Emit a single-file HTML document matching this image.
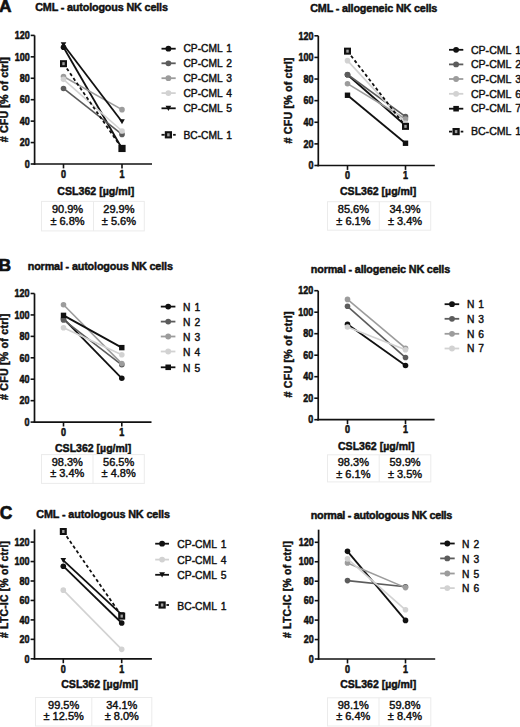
<!DOCTYPE html>
<html><head><meta charset="utf-8"><title>Figure</title>
<style>
html,body{margin:0;padding:0;background:#fff;}
body{width:520px;height:727px;overflow:hidden;}
svg{display:block;font-family:"Liberation Sans", sans-serif;}
</style></head><body>
<svg width="520" height="727" viewBox="0 0 520 727">
<rect x="0" y="0" width="520" height="727" fill="#fff"/>
<line x1="34.6" y1="35.4" x2="34.6" y2="164.85" stroke="#111" stroke-width="1.7" stroke-linecap="butt"/>
<line x1="33.75" y1="164" x2="152" y2="164" stroke="#111" stroke-width="1.7" stroke-linecap="butt"/>
<line x1="30.7" y1="164" x2="34.6" y2="164" stroke="#111" stroke-width="1.6" stroke-linecap="butt"/>
<text x="29.7" y="167.7" font-size="10.3" font-weight="bold" text-anchor="end" fill="#111" textLength="5" lengthAdjust="spacingAndGlyphs" stroke="#111" stroke-width="0.55" stroke-linejoin="round">0</text>
<line x1="30.7" y1="142.57" x2="34.6" y2="142.57" stroke="#111" stroke-width="1.6" stroke-linecap="butt"/>
<text x="29.7" y="146.27" font-size="10.3" font-weight="bold" text-anchor="end" fill="#111" textLength="10" lengthAdjust="spacingAndGlyphs" stroke="#111" stroke-width="0.55" stroke-linejoin="round">20</text>
<line x1="30.7" y1="121.13" x2="34.6" y2="121.13" stroke="#111" stroke-width="1.6" stroke-linecap="butt"/>
<text x="29.7" y="124.83" font-size="10.3" font-weight="bold" text-anchor="end" fill="#111" textLength="10" lengthAdjust="spacingAndGlyphs" stroke="#111" stroke-width="0.55" stroke-linejoin="round">40</text>
<line x1="30.7" y1="99.7" x2="34.6" y2="99.7" stroke="#111" stroke-width="1.6" stroke-linecap="butt"/>
<text x="29.7" y="103.4" font-size="10.3" font-weight="bold" text-anchor="end" fill="#111" textLength="10" lengthAdjust="spacingAndGlyphs" stroke="#111" stroke-width="0.55" stroke-linejoin="round">60</text>
<line x1="30.7" y1="78.27" x2="34.6" y2="78.27" stroke="#111" stroke-width="1.6" stroke-linecap="butt"/>
<text x="29.7" y="81.97" font-size="10.3" font-weight="bold" text-anchor="end" fill="#111" textLength="10" lengthAdjust="spacingAndGlyphs" stroke="#111" stroke-width="0.55" stroke-linejoin="round">80</text>
<line x1="30.7" y1="56.83" x2="34.6" y2="56.83" stroke="#111" stroke-width="1.6" stroke-linecap="butt"/>
<text x="29.7" y="60.53" font-size="10.3" font-weight="bold" text-anchor="end" fill="#111" textLength="15" lengthAdjust="spacingAndGlyphs" stroke="#111" stroke-width="0.55" stroke-linejoin="round">100</text>
<line x1="30.7" y1="35.4" x2="34.6" y2="35.4" stroke="#111" stroke-width="1.6" stroke-linecap="butt"/>
<text x="29.7" y="39.1" font-size="10.3" font-weight="bold" text-anchor="end" fill="#111" textLength="15" lengthAdjust="spacingAndGlyphs" stroke="#111" stroke-width="0.55" stroke-linejoin="round">120</text>
<line x1="63.5" y1="164" x2="63.5" y2="168.4" stroke="#111" stroke-width="1.6" stroke-linecap="butt"/>
<text x="63.5" y="178.3" font-size="10.3" font-weight="bold" text-anchor="middle" fill="#111" textLength="5" lengthAdjust="spacingAndGlyphs" stroke="#111" stroke-width="0.55" stroke-linejoin="round">0</text>
<line x1="122" y1="164" x2="122" y2="168.4" stroke="#111" stroke-width="1.6" stroke-linecap="butt"/>
<text x="122" y="178.3" font-size="10.3" font-weight="bold" text-anchor="middle" fill="#111" textLength="5" lengthAdjust="spacingAndGlyphs" stroke="#111" stroke-width="0.55" stroke-linejoin="round">1</text>
<text x="57.3" y="194.7" font-size="10.5" font-weight="bold" text-anchor="start" fill="#111" textLength="76.9" lengthAdjust="spacingAndGlyphs" stroke="#111" stroke-width="0.45" stroke-linejoin="round">CSL362 [&#181;g/ml]</text>
<g transform="translate(8.1,99.7) rotate(-90)">
<text x="0" y="0" font-size="10.7" font-weight="bold" text-anchor="middle" fill="#111" textLength="85.1" lengthAdjust="spacing" stroke="#111" stroke-width="0.45" stroke-linejoin="round"># CFU [% of ctrl]</text>
</g>
<text x="35.2" y="11" font-size="10.8" font-weight="bold" text-anchor="start" fill="#111" textLength="132.7" lengthAdjust="spacing" stroke="#111" stroke-width="0.45" stroke-linejoin="round">CML - autologous NK cells</text>
<line x1="63.5" y1="47.19" x2="122" y2="148.46" stroke="#111" stroke-width="1.8" stroke-linecap="butt"/>
<circle cx="63.5" cy="47.19" r="2.8" fill="#111"/>
<circle cx="122" cy="148.46" r="2.8" fill="#111"/>
<line x1="63.5" y1="88.45" x2="122" y2="134.42" stroke="#5c5c5c" stroke-width="1.6" stroke-linecap="butt"/>
<circle cx="63.5" cy="88.45" r="2.8" fill="#5c5c5c"/>
<circle cx="122" cy="134.42" r="2.8" fill="#5c5c5c"/>
<line x1="63.5" y1="76.44" x2="122" y2="109.67" stroke="#9c9c9c" stroke-width="1.6" stroke-linecap="butt"/>
<circle cx="63.5" cy="76.44" r="2.8" fill="#9c9c9c"/>
<circle cx="122" cy="109.67" r="2.8" fill="#9c9c9c"/>
<line x1="63.5" y1="79.34" x2="122" y2="130.99" stroke="#d2d2d2" stroke-width="1.6" stroke-linecap="butt"/>
<circle cx="63.5" cy="79.34" r="2.8" fill="#d2d2d2"/>
<circle cx="122" cy="130.99" r="2.8" fill="#d2d2d2"/>
<line x1="63.5" y1="44.72" x2="122" y2="121.67" stroke="#111" stroke-width="1.8" stroke-linecap="butt"/>
<polygon points="60.7,42.32 66.3,42.32 63.5,47.32" fill="#111"/>
<polygon points="119.2,119.27 124.8,119.27 122,124.27" fill="#111"/>
<line x1="63.5" y1="63.69" x2="122" y2="148.46" stroke="#111" stroke-width="1.8" stroke-linecap="butt" stroke-dasharray="3.2,2.6"/>
<rect x="60" y="60.19" width="7" height="7" fill="#111"/>
<rect x="62.3" y="62.19" width="2.4" height="3" fill="#a0a0a0"/>
<rect x="118.4" y="144.86" width="7.2" height="7.2" fill="#111"/>
<line x1="161.5" y1="48.7" x2="175.7" y2="48.7" stroke="#111" stroke-width="1.8" stroke-linecap="butt"/>
<circle cx="168.4" cy="48.7" r="2.88" fill="#111"/>
<text x="183.4" y="52.4" font-size="10.25" text-anchor="start" fill="#111" word-spacing="1.2" stroke="#111" stroke-width="0.42" stroke-linejoin="round">CP-CML 1</text>
<line x1="161.5" y1="63.3" x2="175.7" y2="63.3" stroke="#5c5c5c" stroke-width="1.8" stroke-linecap="butt"/>
<circle cx="168.4" cy="63.3" r="2.88" fill="#5c5c5c"/>
<text x="183.4" y="67" font-size="10.25" text-anchor="start" fill="#111" word-spacing="1.2" stroke="#111" stroke-width="0.42" stroke-linejoin="round">CP-CML 2</text>
<line x1="161.5" y1="78.2" x2="175.7" y2="78.2" stroke="#9c9c9c" stroke-width="1.8" stroke-linecap="butt"/>
<circle cx="168.4" cy="78.2" r="2.88" fill="#9c9c9c"/>
<text x="183.4" y="81.9" font-size="10.25" text-anchor="start" fill="#111" word-spacing="1.2" stroke="#111" stroke-width="0.42" stroke-linejoin="round">CP-CML 3</text>
<line x1="161.5" y1="93.1" x2="175.7" y2="93.1" stroke="#d2d2d2" stroke-width="1.8" stroke-linecap="butt"/>
<circle cx="168.4" cy="93.1" r="2.88" fill="#d2d2d2"/>
<text x="183.4" y="96.8" font-size="10.25" text-anchor="start" fill="#111" word-spacing="1.2" stroke="#111" stroke-width="0.42" stroke-linejoin="round">CP-CML 4</text>
<line x1="161.5" y1="108.3" x2="175.7" y2="108.3" stroke="#111" stroke-width="1.8" stroke-linecap="butt"/>
<polygon points="165.52,105.83 171.28,105.83 168.4,110.98" fill="#111"/>
<text x="183.4" y="112" font-size="10.25" text-anchor="start" fill="#111" word-spacing="1.2" stroke="#111" stroke-width="0.42" stroke-linejoin="round">CP-CML 5</text>
<line x1="161.5" y1="134.8" x2="164.7" y2="134.8" stroke="#111" stroke-width="1.8" stroke-linecap="butt"/>
<line x1="173.1" y1="134.8" x2="175.7" y2="134.8" stroke="#111" stroke-width="1.8" stroke-linecap="butt"/>
<rect x="164.8" y="131.2" width="7.21" height="7.21" fill="#111"/>
<rect x="167.16" y="133.26" width="2.47" height="3.09" fill="#a0a0a0"/>
<text x="183.4" y="138.5" font-size="10.25" text-anchor="start" fill="#111" word-spacing="1.2" stroke="#111" stroke-width="0.42" stroke-linejoin="round">BC-CML 1</text>
<rect x="41.5" y="201.4" width="102.8" height="29.5" fill="none" stroke="#ebebeb" stroke-width="1"/>
<line x1="93.5" y1="201.4" x2="93.5" y2="230.9" stroke="#ebebeb" stroke-width="1" stroke-linecap="butt"/>
<text x="67.5" y="213.2" font-size="11" text-anchor="middle" fill="#111" stroke="#111" stroke-width="0.45" stroke-linejoin="round">90.9%</text>
<text x="67.5" y="224.6" font-size="11" text-anchor="middle" fill="#111" stroke="#111" stroke-width="0.45" stroke-linejoin="round">&#177; 6.8%</text>
<text x="118.9" y="213.2" font-size="11" text-anchor="middle" fill="#111" stroke="#111" stroke-width="0.45" stroke-linejoin="round">29.9%</text>
<text x="118.9" y="224.6" font-size="11" text-anchor="middle" fill="#111" stroke="#111" stroke-width="0.45" stroke-linejoin="round">&#177; 5.6%</text>
<line x1="318.3" y1="35.8" x2="318.3" y2="166.35" stroke="#111" stroke-width="1.7" stroke-linecap="butt"/>
<line x1="317.45" y1="165.5" x2="434.8" y2="165.5" stroke="#111" stroke-width="1.7" stroke-linecap="butt"/>
<line x1="314.4" y1="165.5" x2="318.3" y2="165.5" stroke="#111" stroke-width="1.6" stroke-linecap="butt"/>
<text x="313.4" y="169.2" font-size="10.3" font-weight="bold" text-anchor="end" fill="#111" textLength="5" lengthAdjust="spacingAndGlyphs" stroke="#111" stroke-width="0.55" stroke-linejoin="round">0</text>
<line x1="314.4" y1="143.88" x2="318.3" y2="143.88" stroke="#111" stroke-width="1.6" stroke-linecap="butt"/>
<text x="313.4" y="147.58" font-size="10.3" font-weight="bold" text-anchor="end" fill="#111" textLength="10" lengthAdjust="spacingAndGlyphs" stroke="#111" stroke-width="0.55" stroke-linejoin="round">20</text>
<line x1="314.4" y1="122.27" x2="318.3" y2="122.27" stroke="#111" stroke-width="1.6" stroke-linecap="butt"/>
<text x="313.4" y="125.97" font-size="10.3" font-weight="bold" text-anchor="end" fill="#111" textLength="10" lengthAdjust="spacingAndGlyphs" stroke="#111" stroke-width="0.55" stroke-linejoin="round">40</text>
<line x1="314.4" y1="100.65" x2="318.3" y2="100.65" stroke="#111" stroke-width="1.6" stroke-linecap="butt"/>
<text x="313.4" y="104.35" font-size="10.3" font-weight="bold" text-anchor="end" fill="#111" textLength="10" lengthAdjust="spacingAndGlyphs" stroke="#111" stroke-width="0.55" stroke-linejoin="round">60</text>
<line x1="314.4" y1="79.03" x2="318.3" y2="79.03" stroke="#111" stroke-width="1.6" stroke-linecap="butt"/>
<text x="313.4" y="82.73" font-size="10.3" font-weight="bold" text-anchor="end" fill="#111" textLength="10" lengthAdjust="spacingAndGlyphs" stroke="#111" stroke-width="0.55" stroke-linejoin="round">80</text>
<line x1="314.4" y1="57.42" x2="318.3" y2="57.42" stroke="#111" stroke-width="1.6" stroke-linecap="butt"/>
<text x="313.4" y="61.12" font-size="10.3" font-weight="bold" text-anchor="end" fill="#111" textLength="15" lengthAdjust="spacingAndGlyphs" stroke="#111" stroke-width="0.55" stroke-linejoin="round">100</text>
<line x1="314.4" y1="35.8" x2="318.3" y2="35.8" stroke="#111" stroke-width="1.6" stroke-linecap="butt"/>
<text x="313.4" y="39.5" font-size="10.3" font-weight="bold" text-anchor="end" fill="#111" textLength="15" lengthAdjust="spacingAndGlyphs" stroke="#111" stroke-width="0.55" stroke-linejoin="round">120</text>
<line x1="347.5" y1="165.5" x2="347.5" y2="169.9" stroke="#111" stroke-width="1.6" stroke-linecap="butt"/>
<text x="347.5" y="179" font-size="10.3" font-weight="bold" text-anchor="middle" fill="#111" textLength="5" lengthAdjust="spacingAndGlyphs" stroke="#111" stroke-width="0.55" stroke-linejoin="round">0</text>
<line x1="405.5" y1="165.5" x2="405.5" y2="169.9" stroke="#111" stroke-width="1.6" stroke-linecap="butt"/>
<text x="405.5" y="179" font-size="10.3" font-weight="bold" text-anchor="middle" fill="#111" textLength="5" lengthAdjust="spacingAndGlyphs" stroke="#111" stroke-width="0.55" stroke-linejoin="round">1</text>
<text x="340" y="194.7" font-size="10.5" font-weight="bold" text-anchor="start" fill="#111" textLength="76.3" lengthAdjust="spacingAndGlyphs" stroke="#111" stroke-width="0.45" stroke-linejoin="round">CSL362 [&#181;g/ml]</text>
<g transform="translate(291.9,100.5) rotate(-90)">
<text x="0" y="0" font-size="10.7" font-weight="bold" text-anchor="middle" fill="#111" textLength="85.8" lengthAdjust="spacing" stroke="#111" stroke-width="0.45" stroke-linejoin="round"># CFU [% of ctrl]</text>
</g>
<text x="310.2" y="11.9" font-size="10.8" font-weight="bold" text-anchor="start" fill="#111" textLength="127.1" lengthAdjust="spacing" stroke="#111" stroke-width="0.45" stroke-linejoin="round">CML - allogeneic NK cells</text>
<line x1="347.5" y1="74.71" x2="405.5" y2="125.51" stroke="#111" stroke-width="1.8" stroke-linecap="butt"/>
<circle cx="347.5" cy="74.71" r="2.8" fill="#111"/>
<circle cx="405.5" cy="125.51" r="2.8" fill="#111"/>
<line x1="347.5" y1="74.49" x2="405.5" y2="116.65" stroke="#5c5c5c" stroke-width="1.6" stroke-linecap="butt"/>
<circle cx="347.5" cy="74.49" r="2.8" fill="#5c5c5c"/>
<circle cx="405.5" cy="116.65" r="2.8" fill="#5c5c5c"/>
<line x1="347.5" y1="83.68" x2="405.5" y2="119.02" stroke="#9c9c9c" stroke-width="1.6" stroke-linecap="butt"/>
<circle cx="347.5" cy="83.68" r="2.8" fill="#9c9c9c"/>
<circle cx="405.5" cy="119.02" r="2.8" fill="#9c9c9c"/>
<line x1="347.5" y1="60.66" x2="405.5" y2="123.35" stroke="#d2d2d2" stroke-width="1.6" stroke-linecap="butt"/>
<circle cx="347.5" cy="60.66" r="2.8" fill="#d2d2d2"/>
<circle cx="405.5" cy="123.35" r="2.8" fill="#d2d2d2"/>
<line x1="347.5" y1="95.25" x2="405.5" y2="143.23" stroke="#111" stroke-width="1.8" stroke-linecap="butt"/>
<rect x="344.8" y="92.55" width="5.4" height="5.4" fill="#111"/>
<rect x="402.8" y="140.53" width="5.4" height="5.4" fill="#111"/>
<line x1="347.5" y1="51.15" x2="405.5" y2="126.37" stroke="#111" stroke-width="1.8" stroke-linecap="butt" stroke-dasharray="3.2,2.6"/>
<rect x="344" y="47.65" width="7" height="7" fill="#111"/>
<rect x="346.3" y="49.65" width="2.4" height="3" fill="#a0a0a0"/>
<rect x="402" y="122.87" width="7" height="7" fill="#111"/>
<rect x="404.3" y="124.87" width="2.4" height="3" fill="#a0a0a0"/>
<line x1="449" y1="49.8" x2="463.3" y2="49.8" stroke="#111" stroke-width="1.8" stroke-linecap="butt"/>
<circle cx="456.1" cy="49.8" r="2.88" fill="#111"/>
<text x="470.9" y="53.5" font-size="10.6" text-anchor="start" fill="#111" word-spacing="1.2" stroke="#111" stroke-width="0.42" stroke-linejoin="round">CP-CML 1</text>
<line x1="449" y1="64.4" x2="463.3" y2="64.4" stroke="#5c5c5c" stroke-width="1.8" stroke-linecap="butt"/>
<circle cx="456.1" cy="64.4" r="2.88" fill="#5c5c5c"/>
<text x="470.9" y="68.1" font-size="10.6" text-anchor="start" fill="#111" word-spacing="1.2" stroke="#111" stroke-width="0.42" stroke-linejoin="round">CP-CML 2</text>
<line x1="449" y1="79" x2="463.3" y2="79" stroke="#9c9c9c" stroke-width="1.8" stroke-linecap="butt"/>
<circle cx="456.1" cy="79" r="2.88" fill="#9c9c9c"/>
<text x="470.9" y="82.7" font-size="10.6" text-anchor="start" fill="#111" word-spacing="1.2" stroke="#111" stroke-width="0.42" stroke-linejoin="round">CP-CML 3</text>
<line x1="449" y1="93.8" x2="463.3" y2="93.8" stroke="#d2d2d2" stroke-width="1.8" stroke-linecap="butt"/>
<circle cx="456.1" cy="93.8" r="2.88" fill="#d2d2d2"/>
<text x="470.9" y="97.5" font-size="10.6" text-anchor="start" fill="#111" word-spacing="1.2" stroke="#111" stroke-width="0.42" stroke-linejoin="round">CP-CML 6</text>
<line x1="449" y1="108.7" x2="463.3" y2="108.7" stroke="#111" stroke-width="1.8" stroke-linecap="butt"/>
<rect x="453.32" y="105.92" width="5.56" height="5.56" fill="#111"/>
<text x="470.9" y="112.4" font-size="10.6" text-anchor="start" fill="#111" word-spacing="1.2" stroke="#111" stroke-width="0.42" stroke-linejoin="round">CP-CML 7</text>
<line x1="449" y1="131.6" x2="452.2" y2="131.6" stroke="#111" stroke-width="1.8" stroke-linecap="butt"/>
<line x1="460.7" y1="131.6" x2="463.3" y2="131.6" stroke="#111" stroke-width="1.8" stroke-linecap="butt"/>
<rect x="452.5" y="127.99" width="7.21" height="7.21" fill="#111"/>
<rect x="454.86" y="130.06" width="2.47" height="3.09" fill="#a0a0a0"/>
<text x="470.9" y="135.3" font-size="10.6" text-anchor="start" fill="#111" word-spacing="1.2" stroke="#111" stroke-width="0.42" stroke-linejoin="round">BC-CML 1</text>
<rect x="327.5" y="201.7" width="103.2" height="28.5" fill="none" stroke="#ebebeb" stroke-width="1"/>
<line x1="379.3" y1="201.7" x2="379.3" y2="230.2" stroke="#ebebeb" stroke-width="1" stroke-linecap="butt"/>
<text x="353.4" y="213.3" font-size="11" text-anchor="middle" fill="#111" stroke="#111" stroke-width="0.45" stroke-linejoin="round">85.6%</text>
<text x="353.4" y="225" font-size="11" text-anchor="middle" fill="#111" stroke="#111" stroke-width="0.45" stroke-linejoin="round">&#177; 6.1%</text>
<text x="405" y="213.3" font-size="11" text-anchor="middle" fill="#111" stroke="#111" stroke-width="0.45" stroke-linejoin="round">34.9%</text>
<text x="405" y="225" font-size="11" text-anchor="middle" fill="#111" stroke="#111" stroke-width="0.45" stroke-linejoin="round">&#177; 3.4%</text>
<line x1="34.5" y1="293.5" x2="34.5" y2="422.95" stroke="#111" stroke-width="1.7" stroke-linecap="butt"/>
<line x1="33.65" y1="422.1" x2="151.5" y2="422.1" stroke="#111" stroke-width="1.7" stroke-linecap="butt"/>
<line x1="30.6" y1="422.1" x2="34.5" y2="422.1" stroke="#111" stroke-width="1.6" stroke-linecap="butt"/>
<text x="29.6" y="425.8" font-size="10.3" font-weight="bold" text-anchor="end" fill="#111" textLength="5" lengthAdjust="spacingAndGlyphs" stroke="#111" stroke-width="0.55" stroke-linejoin="round">0</text>
<line x1="30.6" y1="400.67" x2="34.5" y2="400.67" stroke="#111" stroke-width="1.6" stroke-linecap="butt"/>
<text x="29.6" y="404.37" font-size="10.3" font-weight="bold" text-anchor="end" fill="#111" textLength="10" lengthAdjust="spacingAndGlyphs" stroke="#111" stroke-width="0.55" stroke-linejoin="round">20</text>
<line x1="30.6" y1="379.23" x2="34.5" y2="379.23" stroke="#111" stroke-width="1.6" stroke-linecap="butt"/>
<text x="29.6" y="382.93" font-size="10.3" font-weight="bold" text-anchor="end" fill="#111" textLength="10" lengthAdjust="spacingAndGlyphs" stroke="#111" stroke-width="0.55" stroke-linejoin="round">40</text>
<line x1="30.6" y1="357.8" x2="34.5" y2="357.8" stroke="#111" stroke-width="1.6" stroke-linecap="butt"/>
<text x="29.6" y="361.5" font-size="10.3" font-weight="bold" text-anchor="end" fill="#111" textLength="10" lengthAdjust="spacingAndGlyphs" stroke="#111" stroke-width="0.55" stroke-linejoin="round">60</text>
<line x1="30.6" y1="336.37" x2="34.5" y2="336.37" stroke="#111" stroke-width="1.6" stroke-linecap="butt"/>
<text x="29.6" y="340.07" font-size="10.3" font-weight="bold" text-anchor="end" fill="#111" textLength="10" lengthAdjust="spacingAndGlyphs" stroke="#111" stroke-width="0.55" stroke-linejoin="round">80</text>
<line x1="30.6" y1="314.93" x2="34.5" y2="314.93" stroke="#111" stroke-width="1.6" stroke-linecap="butt"/>
<text x="29.6" y="318.63" font-size="10.3" font-weight="bold" text-anchor="end" fill="#111" textLength="15" lengthAdjust="spacingAndGlyphs" stroke="#111" stroke-width="0.55" stroke-linejoin="round">100</text>
<line x1="30.6" y1="293.5" x2="34.5" y2="293.5" stroke="#111" stroke-width="1.6" stroke-linecap="butt"/>
<text x="29.6" y="297.2" font-size="10.3" font-weight="bold" text-anchor="end" fill="#111" textLength="15" lengthAdjust="spacingAndGlyphs" stroke="#111" stroke-width="0.55" stroke-linejoin="round">120</text>
<line x1="63.5" y1="422.1" x2="63.5" y2="426.5" stroke="#111" stroke-width="1.6" stroke-linecap="butt"/>
<text x="63.5" y="435.7" font-size="10.3" font-weight="bold" text-anchor="middle" fill="#111" textLength="5" lengthAdjust="spacingAndGlyphs" stroke="#111" stroke-width="0.55" stroke-linejoin="round">0</text>
<line x1="121.8" y1="422.1" x2="121.8" y2="426.5" stroke="#111" stroke-width="1.6" stroke-linecap="butt"/>
<text x="121.8" y="435.7" font-size="10.3" font-weight="bold" text-anchor="middle" fill="#111" textLength="5" lengthAdjust="spacingAndGlyphs" stroke="#111" stroke-width="0.55" stroke-linejoin="round">1</text>
<text x="55" y="452.3" font-size="10.5" font-weight="bold" text-anchor="start" fill="#111" textLength="76.3" lengthAdjust="spacingAndGlyphs" stroke="#111" stroke-width="0.45" stroke-linejoin="round">CSL362 [&#181;g/ml]</text>
<g transform="translate(8.2,356.9) rotate(-90)">
<text x="0" y="0" font-size="10.6" font-weight="bold" text-anchor="middle" fill="#111" textLength="86.3" lengthAdjust="spacing" stroke="#111" stroke-width="0.45" stroke-linejoin="round"># CFU [% of ctrl]</text>
</g>
<text x="27.7" y="270.4" font-size="10.8" font-weight="bold" text-anchor="start" fill="#111" textLength="145.2" lengthAdjust="spacing" stroke="#111" stroke-width="0.45" stroke-linejoin="round">normal - autologous NK cells</text>
<line x1="63.5" y1="318.68" x2="121.8" y2="378.27" stroke="#111" stroke-width="1.8" stroke-linecap="butt"/>
<circle cx="63.5" cy="318.68" r="2.8" fill="#111"/>
<circle cx="121.8" cy="378.27" r="2.8" fill="#111"/>
<line x1="63.5" y1="319.97" x2="121.8" y2="364.77" stroke="#5c5c5c" stroke-width="1.6" stroke-linecap="butt"/>
<circle cx="63.5" cy="319.97" r="2.8" fill="#5c5c5c"/>
<circle cx="121.8" cy="364.77" r="2.8" fill="#5c5c5c"/>
<line x1="63.5" y1="304.75" x2="121.8" y2="363.59" stroke="#9c9c9c" stroke-width="1.6" stroke-linecap="butt"/>
<circle cx="63.5" cy="304.75" r="2.8" fill="#9c9c9c"/>
<circle cx="121.8" cy="363.59" r="2.8" fill="#9c9c9c"/>
<line x1="63.5" y1="327.69" x2="121.8" y2="354.69" stroke="#d2d2d2" stroke-width="1.6" stroke-linecap="butt"/>
<circle cx="63.5" cy="327.69" r="2.8" fill="#d2d2d2"/>
<circle cx="121.8" cy="354.69" r="2.8" fill="#d2d2d2"/>
<line x1="63.5" y1="315.36" x2="121.8" y2="347.62" stroke="#111" stroke-width="1.8" stroke-linecap="butt"/>
<rect x="60.8" y="312.66" width="5.4" height="5.4" fill="#111"/>
<rect x="119.1" y="344.92" width="5.4" height="5.4" fill="#111"/>
<line x1="160.8" y1="306.6" x2="175.4" y2="306.6" stroke="#111" stroke-width="1.8" stroke-linecap="butt"/>
<circle cx="168.2" cy="306.6" r="2.88" fill="#111"/>
<text x="183.1" y="310.8" font-size="10.25" text-anchor="start" fill="#111" word-spacing="1.2" stroke="#111" stroke-width="0.42" stroke-linejoin="round">N 1</text>
<line x1="160.8" y1="321.6" x2="175.4" y2="321.6" stroke="#5c5c5c" stroke-width="1.8" stroke-linecap="butt"/>
<circle cx="168.2" cy="321.6" r="2.88" fill="#5c5c5c"/>
<text x="183.1" y="325.8" font-size="10.25" text-anchor="start" fill="#111" word-spacing="1.2" stroke="#111" stroke-width="0.42" stroke-linejoin="round">N 2</text>
<line x1="160.8" y1="336.5" x2="175.4" y2="336.5" stroke="#9c9c9c" stroke-width="1.8" stroke-linecap="butt"/>
<circle cx="168.2" cy="336.5" r="2.88" fill="#9c9c9c"/>
<text x="183.1" y="340.7" font-size="10.25" text-anchor="start" fill="#111" word-spacing="1.2" stroke="#111" stroke-width="0.42" stroke-linejoin="round">N 3</text>
<line x1="160.8" y1="351.5" x2="175.4" y2="351.5" stroke="#d2d2d2" stroke-width="1.8" stroke-linecap="butt"/>
<circle cx="168.2" cy="351.5" r="2.88" fill="#d2d2d2"/>
<text x="183.1" y="355.7" font-size="10.25" text-anchor="start" fill="#111" word-spacing="1.2" stroke="#111" stroke-width="0.42" stroke-linejoin="round">N 4</text>
<line x1="160.8" y1="367.3" x2="175.4" y2="367.3" stroke="#111" stroke-width="1.8" stroke-linecap="butt"/>
<rect x="165.42" y="364.52" width="5.56" height="5.56" fill="#111"/>
<text x="183.1" y="371.5" font-size="10.25" text-anchor="start" fill="#111" word-spacing="1.2" stroke="#111" stroke-width="0.42" stroke-linejoin="round">N 5</text>
<rect x="41.5" y="454.6" width="102.8" height="28.8" fill="none" stroke="#ebebeb" stroke-width="1"/>
<line x1="93" y1="454.6" x2="93" y2="483.4" stroke="#ebebeb" stroke-width="1" stroke-linecap="butt"/>
<text x="67.25" y="465.9" font-size="11" text-anchor="middle" fill="#111" stroke="#111" stroke-width="0.45" stroke-linejoin="round">98.3%</text>
<text x="67.25" y="477.4" font-size="11" text-anchor="middle" fill="#111" stroke="#111" stroke-width="0.45" stroke-linejoin="round">&#177; 3.4%</text>
<text x="118.65" y="465.9" font-size="11" text-anchor="middle" fill="#111" stroke="#111" stroke-width="0.45" stroke-linejoin="round">56.5%</text>
<text x="118.65" y="477.4" font-size="11" text-anchor="middle" fill="#111" stroke="#111" stroke-width="0.45" stroke-linejoin="round">&#177; 4.8%</text>
<line x1="318.2" y1="290.7" x2="318.2" y2="420.55" stroke="#111" stroke-width="1.7" stroke-linecap="butt"/>
<line x1="317.35" y1="419.7" x2="434.6" y2="419.7" stroke="#111" stroke-width="1.7" stroke-linecap="butt"/>
<line x1="314.3" y1="419.7" x2="318.2" y2="419.7" stroke="#111" stroke-width="1.6" stroke-linecap="butt"/>
<text x="313.3" y="423.4" font-size="10.3" font-weight="bold" text-anchor="end" fill="#111" textLength="5" lengthAdjust="spacingAndGlyphs" stroke="#111" stroke-width="0.55" stroke-linejoin="round">0</text>
<line x1="314.3" y1="398.2" x2="318.2" y2="398.2" stroke="#111" stroke-width="1.6" stroke-linecap="butt"/>
<text x="313.3" y="401.9" font-size="10.3" font-weight="bold" text-anchor="end" fill="#111" textLength="10" lengthAdjust="spacingAndGlyphs" stroke="#111" stroke-width="0.55" stroke-linejoin="round">20</text>
<line x1="314.3" y1="376.7" x2="318.2" y2="376.7" stroke="#111" stroke-width="1.6" stroke-linecap="butt"/>
<text x="313.3" y="380.4" font-size="10.3" font-weight="bold" text-anchor="end" fill="#111" textLength="10" lengthAdjust="spacingAndGlyphs" stroke="#111" stroke-width="0.55" stroke-linejoin="round">40</text>
<line x1="314.3" y1="355.2" x2="318.2" y2="355.2" stroke="#111" stroke-width="1.6" stroke-linecap="butt"/>
<text x="313.3" y="358.9" font-size="10.3" font-weight="bold" text-anchor="end" fill="#111" textLength="10" lengthAdjust="spacingAndGlyphs" stroke="#111" stroke-width="0.55" stroke-linejoin="round">60</text>
<line x1="314.3" y1="333.7" x2="318.2" y2="333.7" stroke="#111" stroke-width="1.6" stroke-linecap="butt"/>
<text x="313.3" y="337.4" font-size="10.3" font-weight="bold" text-anchor="end" fill="#111" textLength="10" lengthAdjust="spacingAndGlyphs" stroke="#111" stroke-width="0.55" stroke-linejoin="round">80</text>
<line x1="314.3" y1="312.2" x2="318.2" y2="312.2" stroke="#111" stroke-width="1.6" stroke-linecap="butt"/>
<text x="313.3" y="315.9" font-size="10.3" font-weight="bold" text-anchor="end" fill="#111" textLength="15" lengthAdjust="spacingAndGlyphs" stroke="#111" stroke-width="0.55" stroke-linejoin="round">100</text>
<line x1="314.3" y1="290.7" x2="318.2" y2="290.7" stroke="#111" stroke-width="1.6" stroke-linecap="butt"/>
<text x="313.3" y="294.4" font-size="10.3" font-weight="bold" text-anchor="end" fill="#111" textLength="15" lengthAdjust="spacingAndGlyphs" stroke="#111" stroke-width="0.55" stroke-linejoin="round">120</text>
<line x1="347.5" y1="419.7" x2="347.5" y2="424.1" stroke="#111" stroke-width="1.6" stroke-linecap="butt"/>
<text x="347.5" y="433.2" font-size="10.3" font-weight="bold" text-anchor="middle" fill="#111" textLength="5" lengthAdjust="spacingAndGlyphs" stroke="#111" stroke-width="0.55" stroke-linejoin="round">0</text>
<line x1="405.5" y1="419.7" x2="405.5" y2="424.1" stroke="#111" stroke-width="1.6" stroke-linecap="butt"/>
<text x="405.5" y="433.2" font-size="10.3" font-weight="bold" text-anchor="middle" fill="#111" textLength="5" lengthAdjust="spacingAndGlyphs" stroke="#111" stroke-width="0.55" stroke-linejoin="round">1</text>
<text x="338" y="449.7" font-size="10.5" font-weight="bold" text-anchor="start" fill="#111" textLength="76.5" lengthAdjust="spacingAndGlyphs" stroke="#111" stroke-width="0.45" stroke-linejoin="round">CSL362 [&#181;g/ml]</text>
<g transform="translate(291.9,354.5) rotate(-90)">
<text x="0" y="0" font-size="10.6" font-weight="bold" text-anchor="middle" fill="#111" textLength="85.9" lengthAdjust="spacing" stroke="#111" stroke-width="0.45" stroke-linejoin="round"># CFU [% of ctrl]</text>
</g>
<text x="310.8" y="272.5" font-size="10.8" font-weight="bold" text-anchor="start" fill="#111" textLength="139.4" lengthAdjust="spacing" stroke="#111" stroke-width="0.45" stroke-linejoin="round">normal - allogeneic NK cells</text>
<line x1="347.5" y1="324.35" x2="405.5" y2="365.52" stroke="#111" stroke-width="1.8" stroke-linecap="butt"/>
<circle cx="347.5" cy="324.35" r="2.8" fill="#111"/>
<circle cx="405.5" cy="365.52" r="2.8" fill="#111"/>
<line x1="347.5" y1="306.29" x2="405.5" y2="357.56" stroke="#5c5c5c" stroke-width="1.6" stroke-linecap="butt"/>
<circle cx="347.5" cy="306.29" r="2.8" fill="#5c5c5c"/>
<circle cx="405.5" cy="357.56" r="2.8" fill="#5c5c5c"/>
<line x1="347.5" y1="299.41" x2="405.5" y2="348.21" stroke="#9c9c9c" stroke-width="1.6" stroke-linecap="butt"/>
<circle cx="347.5" cy="299.41" r="2.8" fill="#9c9c9c"/>
<circle cx="405.5" cy="348.21" r="2.8" fill="#9c9c9c"/>
<line x1="347.5" y1="326.93" x2="405.5" y2="349.82" stroke="#d2d2d2" stroke-width="1.6" stroke-linecap="butt"/>
<circle cx="347.5" cy="326.93" r="2.8" fill="#d2d2d2"/>
<circle cx="405.5" cy="349.82" r="2.8" fill="#d2d2d2"/>
<line x1="444.6" y1="304.2" x2="459.2" y2="304.2" stroke="#111" stroke-width="1.8" stroke-linecap="butt"/>
<circle cx="452" cy="304.2" r="2.88" fill="#111"/>
<text x="466.9" y="307.9" font-size="10.25" text-anchor="start" fill="#111" word-spacing="1.2" stroke="#111" stroke-width="0.42" stroke-linejoin="round">N 1</text>
<line x1="444.6" y1="318.8" x2="459.2" y2="318.8" stroke="#5c5c5c" stroke-width="1.8" stroke-linecap="butt"/>
<circle cx="452" cy="318.8" r="2.88" fill="#5c5c5c"/>
<text x="466.9" y="322.5" font-size="10.25" text-anchor="start" fill="#111" word-spacing="1.2" stroke="#111" stroke-width="0.42" stroke-linejoin="round">N 3</text>
<line x1="444.6" y1="333.8" x2="459.2" y2="333.8" stroke="#9c9c9c" stroke-width="1.8" stroke-linecap="butt"/>
<circle cx="452" cy="333.8" r="2.88" fill="#9c9c9c"/>
<text x="466.9" y="337.5" font-size="10.25" text-anchor="start" fill="#111" word-spacing="1.2" stroke="#111" stroke-width="0.42" stroke-linejoin="round">N 6</text>
<line x1="444.6" y1="348.5" x2="459.2" y2="348.5" stroke="#d2d2d2" stroke-width="1.8" stroke-linecap="butt"/>
<circle cx="452" cy="348.5" r="2.88" fill="#d2d2d2"/>
<text x="466.9" y="352.2" font-size="10.25" text-anchor="start" fill="#111" word-spacing="1.2" stroke="#111" stroke-width="0.42" stroke-linejoin="round">N 7</text>
<rect x="327.5" y="454.8" width="103.3" height="27.1" fill="none" stroke="#ebebeb" stroke-width="1"/>
<line x1="379.2" y1="454.8" x2="379.2" y2="481.9" stroke="#ebebeb" stroke-width="1" stroke-linecap="butt"/>
<text x="353.35" y="465.9" font-size="11" text-anchor="middle" fill="#111" stroke="#111" stroke-width="0.45" stroke-linejoin="round">98.3%</text>
<text x="353.35" y="477.6" font-size="11" text-anchor="middle" fill="#111" stroke="#111" stroke-width="0.45" stroke-linejoin="round">&#177; 6.1%</text>
<text x="405" y="465.9" font-size="11" text-anchor="middle" fill="#111" stroke="#111" stroke-width="0.45" stroke-linejoin="round">59.9%</text>
<text x="405" y="477.6" font-size="11" text-anchor="middle" fill="#111" stroke="#111" stroke-width="0.45" stroke-linejoin="round">&#177; 3.5%</text>
<line x1="34.5" y1="529.46" x2="34.5" y2="659.65" stroke="#111" stroke-width="1.7" stroke-linecap="butt"/>
<line x1="33.65" y1="658.8" x2="151.9" y2="658.8" stroke="#111" stroke-width="1.7" stroke-linecap="butt"/>
<line x1="30.6" y1="658.8" x2="34.5" y2="658.8" stroke="#111" stroke-width="1.6" stroke-linecap="butt"/>
<text x="29.6" y="662.5" font-size="10.3" font-weight="bold" text-anchor="end" fill="#111" textLength="5" lengthAdjust="spacingAndGlyphs" stroke="#111" stroke-width="0.55" stroke-linejoin="round">0</text>
<line x1="30.6" y1="639.35" x2="34.5" y2="639.35" stroke="#111" stroke-width="1.6" stroke-linecap="butt"/>
<text x="29.6" y="643.05" font-size="10.3" font-weight="bold" text-anchor="end" fill="#111" textLength="10" lengthAdjust="spacingAndGlyphs" stroke="#111" stroke-width="0.55" stroke-linejoin="round">20</text>
<line x1="30.6" y1="619.9" x2="34.5" y2="619.9" stroke="#111" stroke-width="1.6" stroke-linecap="butt"/>
<text x="29.6" y="623.6" font-size="10.3" font-weight="bold" text-anchor="end" fill="#111" textLength="10" lengthAdjust="spacingAndGlyphs" stroke="#111" stroke-width="0.55" stroke-linejoin="round">40</text>
<line x1="30.6" y1="600.45" x2="34.5" y2="600.45" stroke="#111" stroke-width="1.6" stroke-linecap="butt"/>
<text x="29.6" y="604.15" font-size="10.3" font-weight="bold" text-anchor="end" fill="#111" textLength="10" lengthAdjust="spacingAndGlyphs" stroke="#111" stroke-width="0.55" stroke-linejoin="round">60</text>
<line x1="30.6" y1="581" x2="34.5" y2="581" stroke="#111" stroke-width="1.6" stroke-linecap="butt"/>
<text x="29.6" y="584.7" font-size="10.3" font-weight="bold" text-anchor="end" fill="#111" textLength="10" lengthAdjust="spacingAndGlyphs" stroke="#111" stroke-width="0.55" stroke-linejoin="round">80</text>
<line x1="30.6" y1="561.55" x2="34.5" y2="561.55" stroke="#111" stroke-width="1.6" stroke-linecap="butt"/>
<text x="29.6" y="565.25" font-size="10.3" font-weight="bold" text-anchor="end" fill="#111" textLength="15" lengthAdjust="spacingAndGlyphs" stroke="#111" stroke-width="0.55" stroke-linejoin="round">100</text>
<line x1="30.6" y1="542.1" x2="34.5" y2="542.1" stroke="#111" stroke-width="1.6" stroke-linecap="butt"/>
<text x="29.6" y="545.8" font-size="10.3" font-weight="bold" text-anchor="end" fill="#111" textLength="15" lengthAdjust="spacingAndGlyphs" stroke="#111" stroke-width="0.55" stroke-linejoin="round">120</text>
<line x1="63.3" y1="658.8" x2="63.3" y2="663.2" stroke="#111" stroke-width="1.6" stroke-linecap="butt"/>
<text x="63.3" y="673.1" font-size="10.3" font-weight="bold" text-anchor="middle" fill="#111" textLength="5" lengthAdjust="spacingAndGlyphs" stroke="#111" stroke-width="0.55" stroke-linejoin="round">0</text>
<line x1="121.7" y1="658.8" x2="121.7" y2="663.2" stroke="#111" stroke-width="1.6" stroke-linecap="butt"/>
<text x="121.7" y="673.1" font-size="10.3" font-weight="bold" text-anchor="middle" fill="#111" textLength="5" lengthAdjust="spacingAndGlyphs" stroke="#111" stroke-width="0.55" stroke-linejoin="round">1</text>
<text x="61.2" y="688.2" font-size="10.5" font-weight="bold" text-anchor="start" fill="#111" textLength="76.9" lengthAdjust="spacingAndGlyphs" stroke="#111" stroke-width="0.45" stroke-linejoin="round">CSL362 [&#181;g/ml]</text>
<g transform="translate(7.9,589.5) rotate(-90)">
<text x="0" y="0" font-size="10.3" font-weight="bold" text-anchor="middle" fill="#111" textLength="97.1" lengthAdjust="spacing" stroke="#111" stroke-width="0.45" stroke-linejoin="round"># LTC-IC [% of ctrl]</text>
</g>
<text x="36.3" y="518.2" font-size="10.8" font-weight="bold" text-anchor="start" fill="#111" textLength="133.6" lengthAdjust="spacing" stroke="#111" stroke-width="0.45" stroke-linejoin="round">CML - autologous NK cells</text>
<line x1="63.3" y1="566.22" x2="121.7" y2="623.01" stroke="#111" stroke-width="1.8" stroke-linecap="butt"/>
<circle cx="63.3" cy="566.22" r="2.8" fill="#111"/>
<circle cx="121.7" cy="623.01" r="2.8" fill="#111"/>
<line x1="63.3" y1="590.14" x2="121.7" y2="649.37" stroke="#d2d2d2" stroke-width="1.6" stroke-linecap="butt"/>
<circle cx="63.3" cy="590.14" r="2.8" fill="#d2d2d2"/>
<circle cx="121.7" cy="649.37" r="2.8" fill="#d2d2d2"/>
<line x1="63.3" y1="560.29" x2="121.7" y2="614.55" stroke="#111" stroke-width="1.8" stroke-linecap="butt"/>
<polygon points="60.5,557.89 66.1,557.89 63.3,562.89" fill="#111"/>
<polygon points="118.9,612.15 124.5,612.15 121.7,617.15" fill="#111"/>
<line x1="63.3" y1="531.5" x2="121.7" y2="616.11" stroke="#111" stroke-width="1.8" stroke-linecap="butt" stroke-dasharray="3.2,2.6"/>
<rect x="59.8" y="528" width="7" height="7" fill="#111"/>
<rect x="62.1" y="530" width="2.4" height="3" fill="#a0a0a0"/>
<rect x="118.2" y="612.61" width="7" height="7" fill="#111"/>
<rect x="120.5" y="614.61" width="2.4" height="3" fill="#a0a0a0"/>
<line x1="155.2" y1="543.7" x2="169" y2="543.7" stroke="#111" stroke-width="1.8" stroke-linecap="butt"/>
<circle cx="162.1" cy="543.7" r="2.88" fill="#111"/>
<text x="177.3" y="548.2" font-size="10.35" text-anchor="start" fill="#111" word-spacing="1.2" stroke="#111" stroke-width="0.42" stroke-linejoin="round">CP-CML 1</text>
<line x1="155.2" y1="559.6" x2="169" y2="559.6" stroke="#d2d2d2" stroke-width="1.8" stroke-linecap="butt"/>
<circle cx="162.1" cy="559.6" r="2.88" fill="#d2d2d2"/>
<text x="177.3" y="564.1" font-size="10.35" text-anchor="start" fill="#111" word-spacing="1.2" stroke="#111" stroke-width="0.42" stroke-linejoin="round">CP-CML 4</text>
<line x1="155.2" y1="574.8" x2="169" y2="574.8" stroke="#111" stroke-width="1.8" stroke-linecap="butt"/>
<polygon points="159.22,572.33 164.98,572.33 162.1,577.48" fill="#111"/>
<text x="177.3" y="579.3" font-size="10.35" text-anchor="start" fill="#111" word-spacing="1.2" stroke="#111" stroke-width="0.42" stroke-linejoin="round">CP-CML 5</text>
<line x1="155.2" y1="605" x2="158.4" y2="605" stroke="#111" stroke-width="1.8" stroke-linecap="butt"/>
<line x1="166.4" y1="605" x2="169" y2="605" stroke="#111" stroke-width="1.8" stroke-linecap="butt"/>
<rect x="158.5" y="601.39" width="7.21" height="7.21" fill="#111"/>
<rect x="160.86" y="603.46" width="2.47" height="3.09" fill="#a0a0a0"/>
<text x="177.3" y="609.5" font-size="10.35" text-anchor="start" fill="#111" word-spacing="1.2" stroke="#111" stroke-width="0.42" stroke-linejoin="round">BC-CML 1</text>
<rect x="35.5" y="697.5" width="116.3" height="28.5" fill="none" stroke="#ebebeb" stroke-width="1"/>
<line x1="91.8" y1="697.5" x2="91.8" y2="726" stroke="#ebebeb" stroke-width="1" stroke-linecap="butt"/>
<text x="63.65" y="708.8" font-size="11" text-anchor="middle" fill="#111" stroke="#111" stroke-width="0.45" stroke-linejoin="round">99.5%</text>
<text x="63.65" y="720.2" font-size="11" text-anchor="middle" fill="#111" stroke="#111" stroke-width="0.45" stroke-linejoin="round">&#177; 12.5%</text>
<text x="121.8" y="708.8" font-size="11" text-anchor="middle" fill="#111" stroke="#111" stroke-width="0.45" stroke-linejoin="round">34.1%</text>
<text x="121.8" y="720.2" font-size="11" text-anchor="middle" fill="#111" stroke="#111" stroke-width="0.45" stroke-linejoin="round">&#177; 8.0%</text>
<line x1="318.6" y1="529.66" x2="318.6" y2="659.85" stroke="#111" stroke-width="1.7" stroke-linecap="butt"/>
<line x1="317.75" y1="659" x2="435.2" y2="659" stroke="#111" stroke-width="1.7" stroke-linecap="butt"/>
<line x1="314.7" y1="659" x2="318.6" y2="659" stroke="#111" stroke-width="1.6" stroke-linecap="butt"/>
<text x="313.7" y="662.7" font-size="10.3" font-weight="bold" text-anchor="end" fill="#111" textLength="5" lengthAdjust="spacingAndGlyphs" stroke="#111" stroke-width="0.55" stroke-linejoin="round">0</text>
<line x1="314.7" y1="639.55" x2="318.6" y2="639.55" stroke="#111" stroke-width="1.6" stroke-linecap="butt"/>
<text x="313.7" y="643.25" font-size="10.3" font-weight="bold" text-anchor="end" fill="#111" textLength="10" lengthAdjust="spacingAndGlyphs" stroke="#111" stroke-width="0.55" stroke-linejoin="round">20</text>
<line x1="314.7" y1="620.1" x2="318.6" y2="620.1" stroke="#111" stroke-width="1.6" stroke-linecap="butt"/>
<text x="313.7" y="623.8" font-size="10.3" font-weight="bold" text-anchor="end" fill="#111" textLength="10" lengthAdjust="spacingAndGlyphs" stroke="#111" stroke-width="0.55" stroke-linejoin="round">40</text>
<line x1="314.7" y1="600.65" x2="318.6" y2="600.65" stroke="#111" stroke-width="1.6" stroke-linecap="butt"/>
<text x="313.7" y="604.35" font-size="10.3" font-weight="bold" text-anchor="end" fill="#111" textLength="10" lengthAdjust="spacingAndGlyphs" stroke="#111" stroke-width="0.55" stroke-linejoin="round">60</text>
<line x1="314.7" y1="581.2" x2="318.6" y2="581.2" stroke="#111" stroke-width="1.6" stroke-linecap="butt"/>
<text x="313.7" y="584.9" font-size="10.3" font-weight="bold" text-anchor="end" fill="#111" textLength="10" lengthAdjust="spacingAndGlyphs" stroke="#111" stroke-width="0.55" stroke-linejoin="round">80</text>
<line x1="314.7" y1="561.75" x2="318.6" y2="561.75" stroke="#111" stroke-width="1.6" stroke-linecap="butt"/>
<text x="313.7" y="565.45" font-size="10.3" font-weight="bold" text-anchor="end" fill="#111" textLength="15" lengthAdjust="spacingAndGlyphs" stroke="#111" stroke-width="0.55" stroke-linejoin="round">100</text>
<line x1="314.7" y1="542.3" x2="318.6" y2="542.3" stroke="#111" stroke-width="1.6" stroke-linecap="butt"/>
<text x="313.7" y="546" font-size="10.3" font-weight="bold" text-anchor="end" fill="#111" textLength="15" lengthAdjust="spacingAndGlyphs" stroke="#111" stroke-width="0.55" stroke-linejoin="round">120</text>
<line x1="347.5" y1="659" x2="347.5" y2="663.4" stroke="#111" stroke-width="1.6" stroke-linecap="butt"/>
<text x="347.5" y="672.7" font-size="10.3" font-weight="bold" text-anchor="middle" fill="#111" textLength="5" lengthAdjust="spacingAndGlyphs" stroke="#111" stroke-width="0.55" stroke-linejoin="round">0</text>
<line x1="405.5" y1="659" x2="405.5" y2="663.4" stroke="#111" stroke-width="1.6" stroke-linecap="butt"/>
<text x="405.5" y="672.7" font-size="10.3" font-weight="bold" text-anchor="middle" fill="#111" textLength="5" lengthAdjust="spacingAndGlyphs" stroke="#111" stroke-width="0.55" stroke-linejoin="round">1</text>
<text x="340.2" y="687.6" font-size="10.5" font-weight="bold" text-anchor="start" fill="#111" textLength="76.1" lengthAdjust="spacingAndGlyphs" stroke="#111" stroke-width="0.45" stroke-linejoin="round">CSL362 [&#181;g/ml]</text>
<g transform="translate(291,589.5) rotate(-90)">
<text x="0" y="0" font-size="10.3" font-weight="bold" text-anchor="middle" fill="#111" textLength="97.1" lengthAdjust="spacing" stroke="#111" stroke-width="0.45" stroke-linejoin="round"># LTC-IC [% of ctrl]</text>
</g>
<text x="310.8" y="518.5" font-size="10.8" font-weight="bold" text-anchor="start" fill="#111" textLength="141.5" lengthAdjust="spacing" stroke="#111" stroke-width="0.45" stroke-linejoin="round">normal - autologous NK cells</text>
<line x1="347.5" y1="551.34" x2="405.5" y2="620.39" stroke="#111" stroke-width="1.8" stroke-linecap="butt"/>
<circle cx="347.5" cy="551.34" r="2.8" fill="#111"/>
<circle cx="405.5" cy="620.39" r="2.8" fill="#111"/>
<line x1="347.5" y1="580.62" x2="405.5" y2="586.74" stroke="#5c5c5c" stroke-width="1.6" stroke-linecap="butt"/>
<circle cx="347.5" cy="580.62" r="2.8" fill="#5c5c5c"/>
<circle cx="405.5" cy="586.74" r="2.8" fill="#5c5c5c"/>
<line x1="347.5" y1="562.92" x2="405.5" y2="587.62" stroke="#9c9c9c" stroke-width="1.6" stroke-linecap="butt"/>
<circle cx="347.5" cy="562.92" r="2.8" fill="#9c9c9c"/>
<circle cx="405.5" cy="587.62" r="2.8" fill="#9c9c9c"/>
<line x1="347.5" y1="558.83" x2="405.5" y2="609.79" stroke="#d2d2d2" stroke-width="1.6" stroke-linecap="butt"/>
<circle cx="347.5" cy="558.83" r="2.8" fill="#d2d2d2"/>
<circle cx="405.5" cy="609.79" r="2.8" fill="#d2d2d2"/>
<line x1="440.2" y1="543.5" x2="454.7" y2="543.5" stroke="#111" stroke-width="1.8" stroke-linecap="butt"/>
<circle cx="447.3" cy="543.5" r="2.88" fill="#111"/>
<text x="462" y="547.7" font-size="10.25" text-anchor="start" fill="#111" word-spacing="1.2" stroke="#111" stroke-width="0.42" stroke-linejoin="round">N 2</text>
<line x1="440.2" y1="558.4" x2="454.7" y2="558.4" stroke="#5c5c5c" stroke-width="1.8" stroke-linecap="butt"/>
<circle cx="447.3" cy="558.4" r="2.88" fill="#5c5c5c"/>
<text x="462" y="562.6" font-size="10.25" text-anchor="start" fill="#111" word-spacing="1.2" stroke="#111" stroke-width="0.42" stroke-linejoin="round">N 3</text>
<line x1="440.2" y1="573.5" x2="454.7" y2="573.5" stroke="#9c9c9c" stroke-width="1.8" stroke-linecap="butt"/>
<circle cx="447.3" cy="573.5" r="2.88" fill="#9c9c9c"/>
<text x="462" y="577.7" font-size="10.25" text-anchor="start" fill="#111" word-spacing="1.2" stroke="#111" stroke-width="0.42" stroke-linejoin="round">N 5</text>
<line x1="440.2" y1="588.1" x2="454.7" y2="588.1" stroke="#d2d2d2" stroke-width="1.8" stroke-linecap="butt"/>
<circle cx="447.3" cy="588.1" r="2.88" fill="#d2d2d2"/>
<text x="462" y="592.3" font-size="10.25" text-anchor="start" fill="#111" word-spacing="1.2" stroke="#111" stroke-width="0.42" stroke-linejoin="round">N 6</text>
<rect x="327.5" y="697.8" width="103.3" height="28.2" fill="none" stroke="#ebebeb" stroke-width="1"/>
<line x1="379" y1="697.8" x2="379" y2="726" stroke="#ebebeb" stroke-width="1" stroke-linecap="butt"/>
<text x="353.25" y="709" font-size="11" text-anchor="middle" fill="#111" stroke="#111" stroke-width="0.45" stroke-linejoin="round">98.1%</text>
<text x="353.25" y="720.1" font-size="11" text-anchor="middle" fill="#111" stroke="#111" stroke-width="0.45" stroke-linejoin="round">&#177; 6.4%</text>
<text x="404.9" y="709" font-size="11" text-anchor="middle" fill="#111" stroke="#111" stroke-width="0.45" stroke-linejoin="round">59.8%</text>
<text x="404.9" y="720.1" font-size="11" text-anchor="middle" fill="#111" stroke="#111" stroke-width="0.45" stroke-linejoin="round">&#177; 8.4%</text>
<text x="-0.9" y="12.3" font-size="17.4" font-weight="bold" text-anchor="start" fill="#111" stroke="#111" stroke-width="0.7" stroke-linejoin="round">A</text>
<text x="-1.4" y="271.3" font-size="17.4" font-weight="bold" text-anchor="start" fill="#111" stroke="#111" stroke-width="0.7" stroke-linejoin="round">B</text>
<text x="-0.2" y="519.3" font-size="18.4" font-weight="bold" text-anchor="start" fill="#111" textLength="12.6" lengthAdjust="spacingAndGlyphs" stroke="#111" stroke-width="0.7" stroke-linejoin="round">C</text>
</svg>
</body></html>
